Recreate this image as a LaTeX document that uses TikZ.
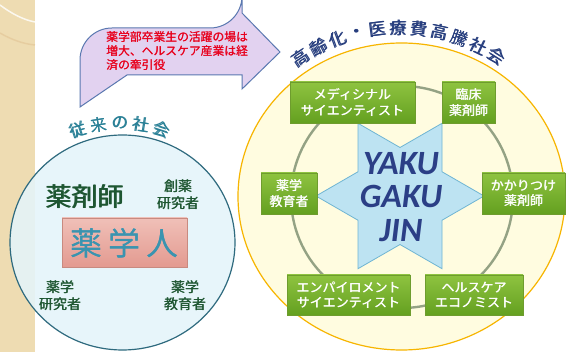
\documentclass[tikz,border=0pt]{standalone}
\usepackage{fontspec}
\setmainfont{Noto Sans CJK JP}
\newfontfamily\cjk{Noto Sans CJK JP}
\newfontfamily\latin{Carlito}
\newcommand\fatt[2][0.5pt]{\leavevmode\rlap{#2}\kern#1\relax#2}
\usetikzlibrary{shapes.geometric}
\definecolor{stripc}{HTML}{EEDCB2}
\definecolor{leftfill}{HTML}{E4F4FA}
\definecolor{leftline}{HTML}{2E6A7E}
\definecolor{yelfill}{HTML}{FFFCE0}
\definecolor{yelline}{HTML}{F7B500}
\definecolor{ringc}{HTML}{94A284}
\definecolor{starfill}{HTML}{BDE3F2}
\definecolor{starline}{HTML}{6FB5D3}
\definecolor{navy}{HTML}{2B3F86}
\definecolor{titlec}{HTML}{273E7E}
\definecolor{tealt}{HTML}{2B8197}
\definecolor{dgreen}{HTML}{1E5631}
\definecolor{gtop}{HTML}{8EC340}
\definecolor{gbot}{HTML}{64A020}
\definecolor{gline}{HTML}{6E9C2E}
\definecolor{arrfill}{HTML}{E2D2F0}
\definecolor{arrline}{HTML}{5A78B0}
\definecolor{redt}{HTML}{E8001C}
\definecolor{pinktop}{HTML}{F0C0B8}
\definecolor{pinkbot}{HTML}{E39A90}
\definecolor{pinkline}{HTML}{C88A80}
\definecolor{jint}{HTML}{3A94B0}
\begin{document}
\begin{tikzpicture}[x=1pt,y=-1pt,
  gbox/.style={draw=gline, line width=0.6pt, top color=gtop, bottom color=gbot,
    text=white, font=\cjk\fontsize{13}{15.5}\selectfont, align=center, inner sep=0pt},
  smalltxt/.style={text=dgreen, font=\cjk\fontsize{14}{17}\selectfont, align=center},
  titlechar/.style={text=titlec, font=\cjk\fontsize{17}{17}\selectfont, inner sep=0pt},
  lefttitlechar/.style={text=tealt, font=\cjk\fontsize{16.5}{16.5}\selectfont, inner sep=0pt}]
\useasboundingbox (0,0) rectangle (570,352);
\fill[white] (0,0) rectangle (570,352);
% left strip
\fill[stripc] (0,0) rectangle (35,352);
\draw[white, opacity=0.8, line width=1.5pt] (0,5) .. controls (12,14) and (24,20) .. (35,22);
\draw[stripc!70!brown, opacity=0.5, line width=1.5pt] (0,33) .. controls (12,40) and (24,44) .. (35,45);
% left circle
\node[draw=leftline, line width=1.2pt, fill=leftfill, fill opacity=0.88, ellipse,
  minimum width=225pt, minimum height=215pt, inner sep=0pt] (leftc) at (122.5,242.5) {};
% arrow
\draw[arrline, fill=arrfill, line width=1pt, line join=miter]
  (80,107) {[rounded corners=32pt] -- (80,28) -- (242,28)} -- (242,13) -- (280,52)
  -- (242,89) -- (242,75) -- (127,75) -- cycle;
\node[anchor=west, align=left, text=redt, font=\cjk\fontsize{11.8}{13.6}\selectfont, inner sep=0pt]
  (arrtext) at (106,51) {\fatt[0.35pt]{薬学部卒業生の活躍の場は}\\\fatt[0.35pt]{増大、ヘルスケア産業は経}\\\fatt[0.35pt]{済の牽引役}};
% right circle
\node[draw=yelline, line width=1.2pt, fill=yelfill, ellipse,
  minimum width=327pt, minimum height=307pt, inner sep=0pt] (rightc) at (401.5,196.5) {};
\node[draw=ringc, line width=2.4pt, circle, minimum size=222pt, inner sep=0pt] (ring) at (402,197) {};
% star
\draw[starline, fill=starfill, line width=0.8pt]
  (484,196) -- (442,171.75) -- (442,123.3) -- (400,147.5) -- (358,123.3) -- (358,171.75)
  -- (316,196) -- (358,220.25) -- (358,268.7) -- (400,244.5) -- (442,268.7) -- (442,220.25) -- cycle;
\node[text=navy, font=\latin\bfseries\itshape\fontsize{34}{33.5}\selectfont, align=center, inner sep=0pt]
  (yaku) at (401,197) {YAKU\\GAKU\\JIN};
% green boxes
\node[gbox, minimum width=125pt, minimum height=41pt] (b1) at (352.5,102.5) {\fatt{メディシナル}\\\fatt{サイエンティスト}};
\node[gbox, minimum width=53pt, minimum height=41pt] (b2) at (468.5,102.5) {\fatt{臨床}\\\fatt{薬剤師}};
\node[gbox, minimum width=56pt, minimum height=41pt] (b3) at (289,193.5) {\fatt{薬学}\\\fatt{教育者}};
\node[gbox, minimum width=83pt, minimum height=41pt] (b4) at (523.5,193.5) {\fatt{かかりつけ}\\\fatt{薬剤師}};
\node[gbox, minimum width=123pt, minimum height=40pt] (b5) at (348.5,295) {\fatt{エンパイロメント}\\\fatt{サイエンティスト}};
\node[gbox, minimum width=98pt, minimum height=40pt] (b6) at (474,295) {\fatt{ヘルスケア}\\\fatt{エコノミスト}};
% right title
\foreach \c [count=\i from 0] in {高,齢,化,・,医,療,費,高,騰,社,会} {
  \pgfmathsetmacro{\a}{123.5-6.6*\i}
  \node[titlechar, rotate=\a-90] (rt\i) at ({400+180*cos(\a)},{208-180*sin(\a)}) {\fatt[0.7pt]{\c}};
}
% left title
\foreach \c [count=\i from 0] in {従,来,の,社,会} {
  \pgfmathsetmacro{\a}{108-9*\i}
  \node[lefttitlechar, rotate=\a-90] (lt\i) at ({120+136*cos(\a)},{259-136*sin(\a)}) {\fatt[0.6pt]{\c}};
}
% left circle contents
\node[text=dgreen, font=\cjk\fontsize{26}{26}\selectfont, inner sep=0pt] (yzs) at (85,197) {\fatt[0.9pt]{薬剤師}};
\node[smalltxt] (sou) at (178,195) {\fatt{創薬}\\\fatt{研究者}};
\node[draw=pinkline, line width=0.8pt, top color=pinktop, bottom color=pinkbot,
  minimum width=125pt, minimum height=49pt, inner sep=0pt] (pink) at (124.5,242.5) {};
\node[text=jint, font=\cjk\fontsize{32}{32}\selectfont, inner sep=0pt] (yj) at (124.5,243) {\fatt[0.9pt]{薬\hspace{6pt}学\hspace{6pt}人}};
\node[smalltxt] (ykk) at (60,296) {\fatt{薬学}\\\fatt{研究者}};
\node[smalltxt] (ykt) at (185,296) {\fatt{薬学}\\\fatt{教育者}};
\end{tikzpicture}
\end{document}
